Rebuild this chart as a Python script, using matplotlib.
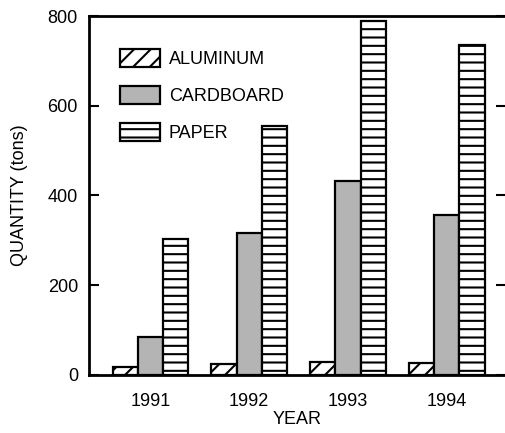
import numpy as np
import matplotlib.pyplot as plt

plt.rcParams['font.family'] = ['Liberation Sans', 'DejaVu Sans']
plt.rcParams['hatch.linewidth'] = 1.5

years = ['1991', '1992', '1993', '1994']
aluminum = [18, 24, 30, 26]
cardboard = [85, 316, 432, 356]
paper = [302, 555, 790, 736]

x = np.arange(len(years))
w = 0.255

fig = plt.figure(figsize=(5.06, 4.33), dpi=100)
ax = fig.add_axes([0.176, 0.134, 0.824, 0.829])

ax.bar(x - w, aluminum, w, facecolor='white', edgecolor='black', hatch='//', linewidth=1.6, label='ALUMINUM')
ax.bar(x, cardboard, w, facecolor='#b4b4b4', edgecolor='black', linewidth=1.6, label='CARDBOARD')
ax.bar(x + w, paper, w, facecolor='white', edgecolor='black', hatch='--', linewidth=1.6, label='PAPER')

ax.set_xlim(-0.62, 3.6)
ax.set_ylim(0, 800)
ax.set_yticks([0, 200, 400, 600, 800])
ax.set_xticks(x)
ax.set_xticklabels(years)
ax.tick_params(axis='x', length=0, pad=13, labelsize=13)
ax.tick_params(axis='y', direction='in', length=7, width=1.5, labelsize=13, pad=8, right=True)

for s in ['left', 'bottom', 'top']:
    ax.spines[s].set_linewidth(2)
ax.spines['right'].set_visible(False)

ax.set_xlabel('YEAR', fontsize=13, labelpad=1)
ax.set_ylabel('QUANTITY (tons)', fontsize=13, labelpad=14)

ax.legend(loc='upper left', bbox_to_anchor=(0.035, 0.953), frameon=False, fontsize=13,
          handlelength=2.2, handleheight=1.15, labelspacing=1.0, handletextpad=0.5)

fig.savefig('out.png', dpi=100)
